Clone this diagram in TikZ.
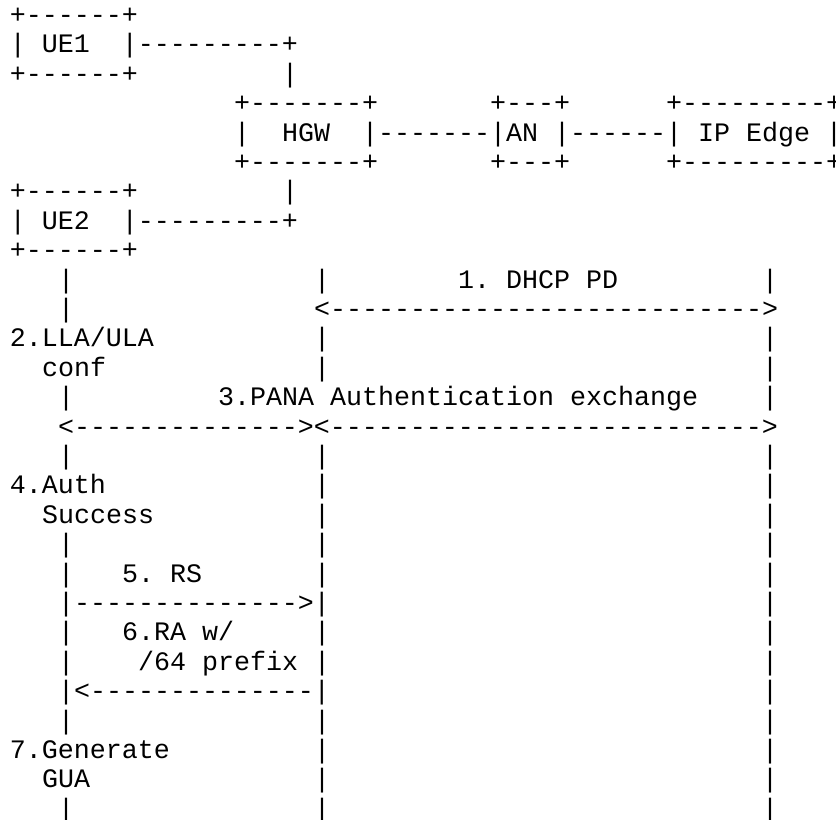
\documentclass[tikz,border=0pt]{standalone}
\usepackage{fontspec}
\setmonofont{Liberation Mono}
\tikzset{ascii/.style={anchor=base west,inner sep=0pt,outer sep=0pt,font=\ttfamily\fontsize{20}{22}\selectfont}}

\begin{document}
\begin{tikzpicture}[x=12pt,y=-22.05pt]
  \useasboundingbox (-0.625,-0.8) rectangle (51.625,27.09);
  \node[ascii] (ueonetop) at (0,0) {+------+};
  \node[ascii] (ueone) at (0,1) {|~UE1~~|---------+};
  \node[ascii] (ueonebot) at (0,2) {+------+};
  \node[ascii] (ueonelink) at (17,2) {|};
  \node[ascii] (hgwtop) at (14,3) {+-------+};
  \node[ascii] (antop) at (30,3) {+---+};
  \node[ascii] (edgetop) at (41,3) {+---------+};
  \node[ascii] (hgw) at (14,4) {|~~HGW~~|-------|AN~|------|~IP~Edge~|};
  \node[ascii] (hgwbot) at (14,5) {+-------+};
  \node[ascii] (anbot) at (30,5) {+---+};
  \node[ascii] (edgebot) at (41,5) {+---------+};
  \node[ascii] (uetwolink) at (17,6) {|};
  \node[ascii] (uetwotop) at (0,6) {+------+};
  \node[ascii] (uetwo) at (0,7) {|~UE2~~|---------+};
  \node[ascii] (uetwobot) at (0,8) {+------+};
  \foreach \r in {9,10,13,15,18,19,21,22,24,27}
    \node[ascii] (ue-\r) at (3,\r) {|};
  \foreach \r in {9,11,12,15,16,17,18,19,21,22,24,25,26,27}
    \node[ascii] (gw-\r) at (19,\r) {|};
  \foreach \r in {9,11,12,13,15,16,17,18,19,20,21,22,23,24,25,26,27}
    \node[ascii] (ip-\r) at (47,\r) {|};
  \node[ascii] (dhcp) at (28,9) {1. DHCP PD};
  \node[ascii] (dhcparrow) at (19,10) {<--------------------------->};
  \node[ascii] (lla) at (0,11) {2.LLA/ULA};
  \node[ascii] (conf) at (2,12) {conf};
  \node[ascii] (pana) at (13,13) {3.PANA Authentication exchange};
  \node[ascii] (panaarrow) at (3,14) {<--------------><--------------------------->};
  \node[ascii] (auth) at (0,16) {4.Auth};
  \node[ascii] (success) at (2,17) {Success};
  \node[ascii] (rs) at (7,19) {5. RS};
  \node[ascii] (rsarrow) at (3,20) {|-------------->|};
  \node[ascii] (ra) at (7,21) {6.RA w/};
  \node[ascii] (prefix) at (8,22) {/64~prefix};
  \node[ascii] (raarrow) at (3,23) {|<--------------|};
  \node[ascii] (gen) at (0,25) {7.Generate};
  \node[ascii] (gua) at (2,26) {GUA};
\end{tikzpicture}
\end{document}
